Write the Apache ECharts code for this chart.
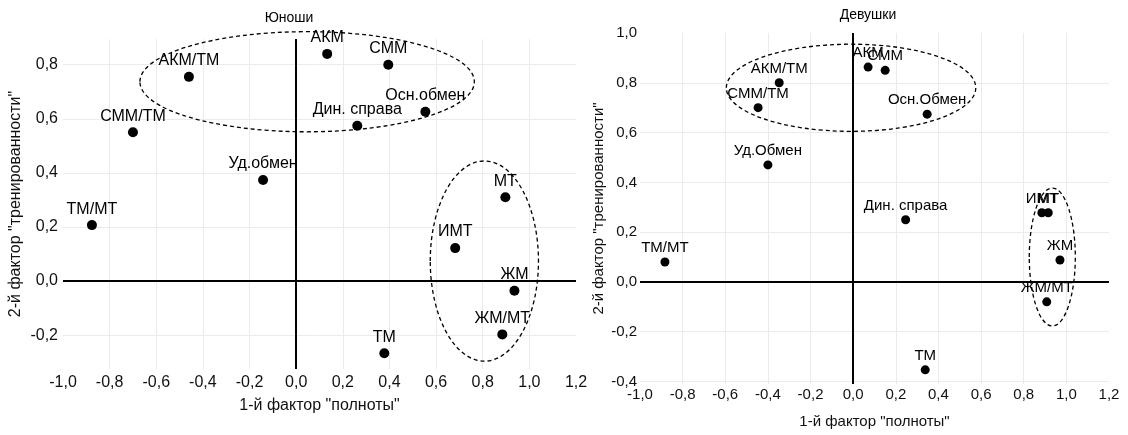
<!DOCTYPE html>
<html><head><meta charset="utf-8">
<script src="https://cdn.jsdelivr.net/npm/echarts@6/dist/echarts.min.js"></script>
<style>html,body{margin:0;padding:0;background:#fff}#c{width:1128px;height:435px}</style>
</head><body><div id="c"></div>
<script>
// ---- data: Юноши (young men)
const maleNames = ['АКМ','СММ','АКМ/ТМ','Осн.обмен','Дин. справа','СММ/ТМ','Уд.обмен','МТ','ТМ/МТ','ИМТ','ЖМ','ЖМ/МТ','ТМ'];
const maleX     = [0.133, 0.395, -0.46, 0.554, 0.262, -0.70, -0.142, 0.897, -0.876, 0.682, 0.936, 0.884, 0.378];
const maleY     = [0.84, 0.80, 0.755, 0.626, 0.574, 0.55, 0.374, 0.31, 0.207, 0.122, -0.036, -0.197, -0.267];
// ---- data: Девушки (young women)
const femaleNames = ['АКМ','СММ','АКМ/ТМ','СММ/ТМ','Осн.Обмен','Уд.Обмен','Дин. справа','ИМТ','МТ','ЖМ','ТМ/МТ','ЖМ/МТ','ТМ'];
const femaleX     = [0.07, 0.15, -0.347, -0.446, 0.347, -0.40, 0.246, 0.885, 0.915, 0.97, -0.883, 0.908, 0.338];
const femaleY     = [0.863, 0.85, 0.80, 0.70, 0.674, 0.47, 0.25, 0.278, 0.278, 0.088, 0.08, -0.08, -0.353];
// ---- tick labels
const xTicks = [-1.0, -0.8, -0.6, -0.4, -0.2, 0.0, 0.2, 0.4, 0.6, 0.8, 1.0, 1.2];
const yTicksMale = [-0.2, 0.0, 0.2, 0.4, 0.6, 0.8];
const yTicksFemale = [-0.4, -0.2, 0.0, 0.2, 0.4, 0.6, 0.8, 1.0];
// ---- dashed group ellipses (centre x, centre y, radius x, radius y in data units)
const maleEllipses = [[0.047, 0.737, 0.717, 0.185], [0.807, 0.074, 0.232, 0.37]];
const femaleEllipses = [[-0.01, 0.78, 0.585, 0.175], [0.934, 0.10, 0.108, 0.277]];

const FONT = "'Liberation Sans', Arial, sans-serif";
const TXT = '#111';
const fmt = v => Number(v).toFixed(1).replace('.', ',');
const chart = echarts.init(document.getElementById('c'), null, {renderer: 'canvas'});

function xAxisDef(gi, gap, margin, fs) {
  return {type: 'value', gridIndex: gi, min: -1.0, max: 1.2,
    name: '1-й фактор "полноты"', nameLocation: 'middle', nameGap: gap,
    nameTextStyle: {fontFamily: FONT, fontSize: fs, color: TXT},
    axisLine: {show: false}, axisTick: {show: false}, splitLine: {show: false},
    axisLabel: {customValues: xTicks, formatter: fmt, fontFamily: FONT, fontSize: fs, color: TXT, margin: margin}};
}
function yAxisDef(gi, min, max, ticks, gap, margin, fs) {
  return {type: 'value', gridIndex: gi, min: min, max: max,
    name: '2-й фактор "тренированности"', nameLocation: 'middle', nameGap: gap,
    nameTextStyle: {fontFamily: FONT, fontSize: fs, color: TXT},
    axisLine: {show: false}, axisTick: {show: false}, splitLine: {show: false},
    axisLabel: {customValues: ticks, formatter: fmt, fontFamily: FONT, fontSize: fs, color: TXT, margin: margin}};
}
function gridSeries(gi, yTicks, ymin, ymax) {
  const inner = xTicks.filter(v => v > -1.0 + 1e-9 && v < 1.2 - 1e-9).map(v => ({xAxis: v}));
  const innerY = yTicks.filter(v => v > ymin + 1e-9 && v < ymax - 1e-9).map(v => ({yAxis: v}));
  return {type: 'line', xAxisIndex: gi, yAxisIndex: gi, data: [], silent: true, z: 1,
    markLine: {silent: true, symbol: 'none', label: {show: false}, animation: false,
      lineStyle: {color: '#ebebeb', width: 1, type: 'solid'}, data: inner.concat(innerY)}};
}
function zeroSeries(gi) {
  return {type: 'line', xAxisIndex: gi, yAxisIndex: gi, data: [], silent: true, z: 2,
    markLine: {silent: true, symbol: 'none', label: {show: false}, animation: false,
      lineStyle: {color: '#000', width: 2, type: 'solid'}, data: [{xAxis: 0}, {yAxis: 0}]}};
}
function pointSeries(gi, names, xs, ys, size, fs, dist) {
  return {type: 'scatter', xAxisIndex: gi, yAxisIndex: gi, z: 5, symbolSize: size,
    itemStyle: {color: '#000', opacity: 1},
    label: {show: true, position: 'top', distance: dist, formatter: p => p.data[2],
      fontFamily: FONT, fontSize: fs, color: '#000'},
    data: names.map((n, i) => [xs[i], ys[i], n])};
}

chart.setOption({
  animation: false,
  grid: [
    {left: 63, top: 39, width: 513, height: 330},
    {left: 640, top: 33, width: 469, height: 351}
  ],
  xAxis: [xAxisDef(0, 29, 6, 16), xAxisDef(1, 30, 3, 15)],
  yAxis: [yAxisDef(0, -0.325, 0.895, yTicksMale, 39, 5, 16), yAxisDef(1, -0.41, 1.0, yTicksFemale, 34, 3, 15)],
  series: [
    gridSeries(0, yTicksMale, -0.325, 0.895), zeroSeries(0), pointSeries(0, maleNames, maleX, maleY, 10, 16, 3),
    gridSeries(1, yTicksFemale, -0.41, 1.0), zeroSeries(1), pointSeries(1, femaleNames, femaleX, femaleY, 9, 15, 2)
  ]
});

function ellipseGraphics(gi, list) {
  return list.map(e => {
    const c = chart.convertToPixel({gridIndex: gi}, [e[0], e[1]]);
    const px = chart.convertToPixel({gridIndex: gi}, [e[0] + e[2], e[1] + e[3]]);
    return {type: 'ellipse', z: 10, silent: true,
      shape: {cx: c[0], cy: c[1], rx: Math.abs(px[0] - c[0]), ry: Math.abs(px[1] - c[1])},
      style: {fill: 'none', stroke: '#000', lineWidth: 1.3, lineDash: [4, 3]}};
  });
}
chart.setOption({
  graphic: [
    {type: 'text', x: 289, y: 18, z: 10, style: {text: 'Юноши', fontFamily: FONT, fontSize: 14, fill: '#000', align: 'center', verticalAlign: 'middle'}},
    {type: 'text', x: 868, y: 15, z: 10, style: {text: 'Девушки', fontFamily: FONT, fontSize: 14, fill: '#000', align: 'center', verticalAlign: 'middle'}}
  ].concat(ellipseGraphics(0, maleEllipses), ellipseGraphics(1, femaleEllipses))
});
</script></body></html>
